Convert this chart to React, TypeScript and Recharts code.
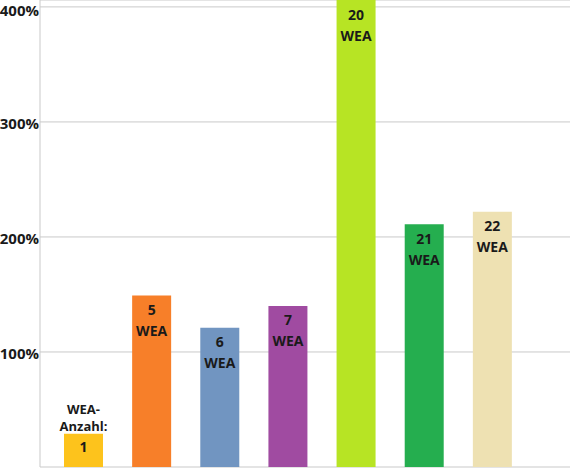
import React from "react"
import { BarChart, Bar, XAxis, YAxis, CartesianGrid, Cell, LabelList } from "recharts"

// WEA-Anzahl per bar
const categories = ["1", "5", "6", "7", "20", "21", "22"]
const values = [29, 149, 121, 140, 406, 211, 222]
const colors = ["#FDC31C", "#F77F29", "#7195C1", "#A04BA1", "#B7E424", "#25AE4F", "#EEE1B2"]
const yTicks = [0, 100, 200, 300, 400]

const chartData = categories.map((c, i) => ({ name: c, value: values[i] }))

const FONT = "'Open Sans', sans-serif"

function BarLabel(props: any) {
  const { x, y, width, index } = props
  const cx = x + width / 2
  const style = { fontFamily: FONT, fontWeight: 700, fontSize: 14, fill: "#1a1a1a" }
  if (index === 0) {
    const small = { ...style, fontSize: 13 }
    return (
      <g>
        <text x={cx} y={y - 25} textAnchor="middle" dominantBaseline="central" style={small}>WEA-</text>
        <text x={cx} y={y - 8} textAnchor="middle" dominantBaseline="central" style={small}>Anzahl:</text>
        <text x={cx} y={y + 13} textAnchor="middle" dominantBaseline="central" style={style}>{categories[index]}</text>
      </g>
    )
  }
  return (
    <g>
      <text x={cx} y={y + 14} textAnchor="middle" dominantBaseline="central" style={style}>{categories[index]}</text>
      <text x={cx} y={y + 35} textAnchor="middle" dominantBaseline="central" style={style}>WEA</text>
    </g>
  )
}

function YTick(props: any) {
  const { x, y, payload } = props
  if (payload.value === 0) return null
  return (
    <text x={x} y={y + 1} textAnchor="end" dominantBaseline="central"
      style={{ fontFamily: FONT, fontWeight: 700, fontSize: 15, fill: "#1a1a1a" }}>
      {`${payload.value}%`}
    </text>
  )
}

export default function App() {
  return (
    <div style={{ position: "absolute", top: 0, left: 0, width: 570, height: 468, background: "#fff" }}>
      <BarChart width={570} height={468} data={chartData} margin={{ top: 0, right: 0, left: 0, bottom: 1 }}>
        <CartesianGrid vertical={false} stroke="#C9C9C9" />
        <XAxis dataKey="name" tick={false} tickLine={false} height={0} axisLine={{ stroke: "#C9C9C9" }} padding={{ left: 9, right: 44 }} />
        <YAxis
          domain={[0, 406]}
          ticks={yTicks}
          width={40}
          tickLine={false}
          tickSize={0}
          tickMargin={1}
          axisLine={{ stroke: "#C9C9C9" }}
          tick={YTick}
          allowDataOverflow
        />
        <Bar dataKey="value" barSize={39} isAnimationActive={false}>
          {chartData.map((d, i) => (
            <Cell key={d.name} fill={colors[i]} />
          ))}
          <LabelList dataKey="value" content={BarLabel} />
        </Bar>
      </BarChart>
    </div>
  )
}
